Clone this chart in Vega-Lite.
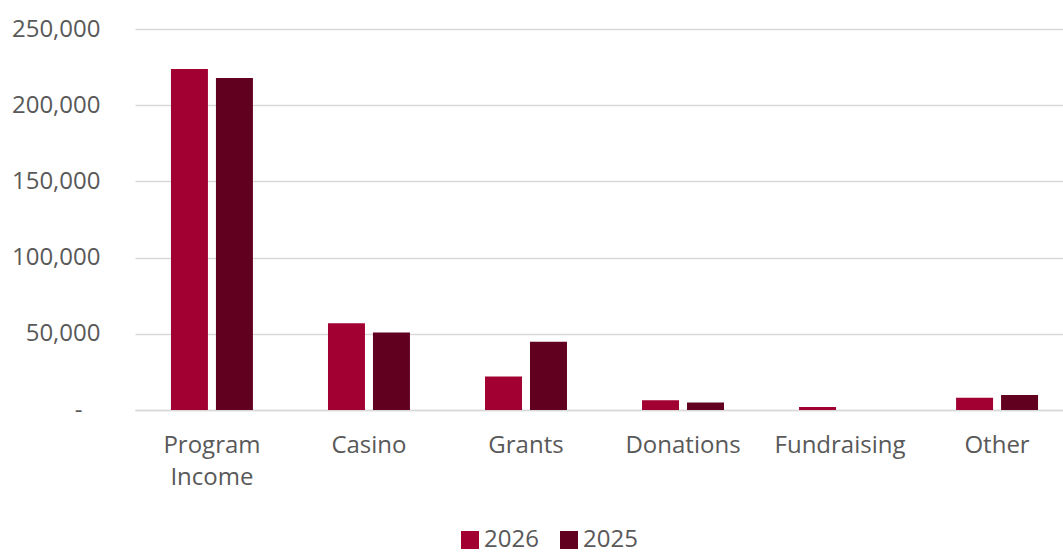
{
  "$schema": "https://vega.github.io/schema/vega-lite/v6.json",
  "width": 928,
  "height": 381,
  "autosize": {"type": "none"},
  "padding": {"left": 135, "top": 29, "right": 0, "bottom": 144},
  "background": "white",
  "config": {
    "view": {"stroke": null},
    "font": "Open Sans",
    "axis": {"labelFont": "Open Sans", "labelColor": "#595959", "labelFontSize": 24},
    "legend": {"labelFont": "Open Sans", "labelColor": "#595959", "labelFontSize": 24}
  },
  "data": {
    "values": [
      {"category": "Program Income", "year": "2026", "value": 223700},
      {"category": "Program Income", "year": "2025", "value": 217800},
      {"category": "Casino", "year": "2026", "value": 57000},
      {"category": "Casino", "year": "2025", "value": 50900},
      {"category": "Grants", "year": "2026", "value": 21900},
      {"category": "Grants", "year": "2025", "value": 44800},
      {"category": "Donations", "year": "2026", "value": 6400},
      {"category": "Donations", "year": "2025", "value": 4900},
      {"category": "Fundraising", "year": "2026", "value": 2000},
      {"category": "Fundraising", "year": "2025", "value": 0},
      {"category": "Other", "year": "2026", "value": 8000},
      {"category": "Other", "year": "2025", "value": 9800}
    ]
  },
  "mark": {"type": "bar"},
  "encoding": {
    "x": {
      "field": "category",
      "type": "nominal",
      "sort": ["Program Income", "Casino", "Grants", "Donations", "Fundraising", "Other"],
      "scale": {"paddingInner": 0.478, "paddingOuter": 0.229, "range": [0, 939]},
      "axis": {
        "title": null,
        "labelAngle": 0,
        "ticks": false,
        "domain": true,
        "domainColor": "#d9d9d9",
        "domainWidth": 1.5,
        "labelPadding": 23,
        "labelLineHeight": 32,
        "labelBaseline": "top",
        "labelExpr": "datum.label == 'Program Income' ? ['Program', 'Income'] : datum.label"
      }
    },
    "xOffset": {
      "field": "year",
      "type": "nominal",
      "sort": ["2026", "2025"],
      "scale": {"paddingInner": 0.178}
    },
    "y": {
      "field": "value",
      "type": "quantitative",
      "scale": {"domain": [0, 250000], "nice": false},
      "axis": {
        "title": null,
        "values": [0, 50000, 100000, 150000, 200000, 250000],
        "ticks": false,
        "domain": false,
        "grid": true,
        "gridColor": "#d9d9d9",
        "gridWidth": 1.5,
        "labelPadding": 35,
        "labelExpr": "datum.value == 0 ? '-\u2800' : format(datum.value, ',')"
      }
    },
    "color": {
      "field": "year",
      "type": "nominal",
      "sort": ["2026", "2025"],
      "scale": {"domain": ["2026", "2025"], "range": ["#A20033", "#620020"]},
      "legend": {
        "title": null,
        "orient": "none",
        "direction": "horizontal",
        "legendX": 323,
        "legendY": 499,
        "symbolType": "square",
        "symbolSize": 324,
        "symbolStrokeWidth": 0,
        "labelOffset": 2,
        "columnPadding": 18
      }
    }
  }
}
